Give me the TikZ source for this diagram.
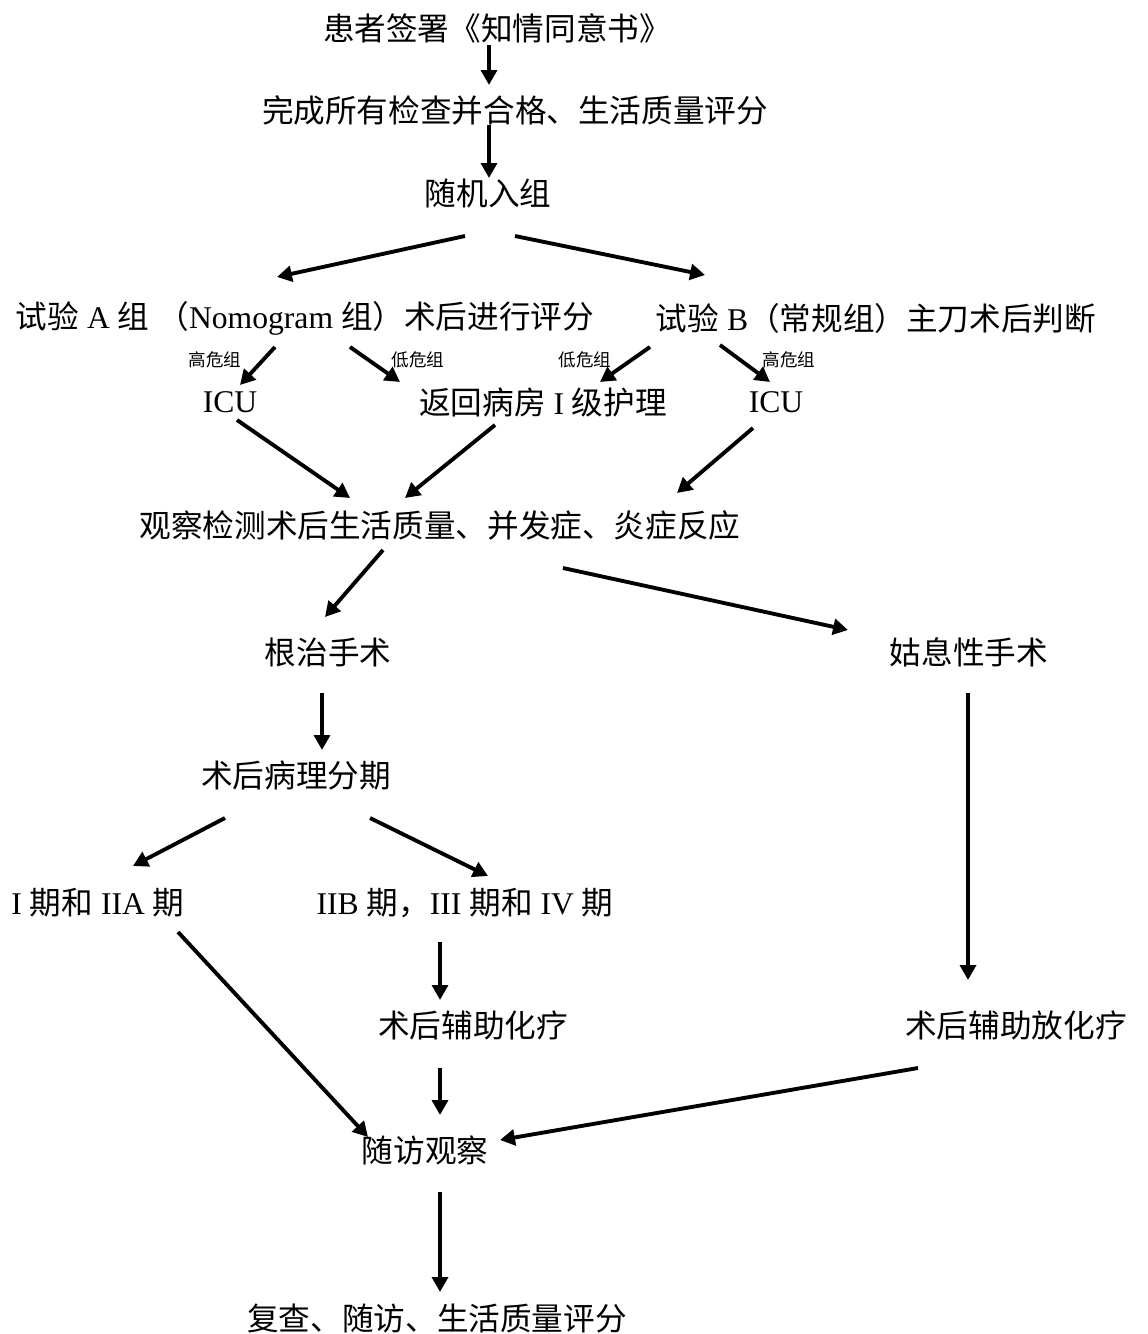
\documentclass[tikz,border=0pt]{standalone}
\usepackage{fontspec}
\setmainfont{Liberation Serif}
\newfontfamily\cjk{Noto Sans CJK SC}
\usetikzlibrary{arrows.meta,calc}
\newcommand{\zh}[1]{{\cjk #1}}
\begin{document}
\begin{tikzpicture}[x=0.02cm,y=-0.02cm,
  txt/.style={inner sep=1pt, font=\fontsize{18}{20}\selectfont},
  lbl/.style={inner sep=0pt, font=\fontsize{10}{12}\selectfont\cjk},
  arr/.style={line width=2.2pt, -{Triangle[length=8.5pt,width=9pt]}}]
\useasboundingbox (0,0) rectangle (1148,1334);
% nodes
\node[txt] (n1) at (497,28) {\zh{患者签署《知情同意书》}};
\node[txt] (n2) at (515,110) {\zh{完成所有检查并合格、生活质量评分}};
\node[txt] (n3) at (488,193) {\zh{随机入组}};
\node[txt] (nA) at (305,318) {\zh{试验}~A~\zh{组}~\zh{（}Nomogram~\zh{组）术后进行评分}};
\node[txt] (nB) at (876,318) {\zh{试验}~B\zh{（常规组）主刀术后判断}};
\node[lbl] (lA1) at (215,360) {高危组};
\node[lbl] (lA2) at (418,360) {低危组};
\node[lbl] (lB1) at (585,360) {低危组};
\node[lbl] (lB2) at (789,360) {高危组};
\node[txt] (icuA) at (230,402) {ICU};
\node[txt] (ward) at (543,402) {\zh{返回病房}~I~\zh{级护理}};
\node[txt] (icuB) at (776,402) {ICU};
\node[txt] (obs) at (440,525) {\zh{观察检测术后生活质量、并发症、炎症反应}};
\node[txt] (rad) at (328,652) {\zh{根治手术}};
\node[txt] (pal) at (969,652) {\zh{姑息性手术}};
\node[txt] (stage) at (296,776) {\zh{术后病理分期}};
\node[txt] (e1) at (98,903) {I~\zh{期和}~IIA~\zh{期}};
\node[txt] (e2) at (465,903) {IIB~\zh{期，}III~\zh{期和}~IV~\zh{期}};
\node[txt] (chemo) at (473,1025) {\zh{术后辅助化疗}};
\node[txt] (rchemo) at (1016,1025) {\zh{术后辅助放化疗}};
\node[txt] (fu) at (425,1150) {\zh{随访观察}};
\node[txt] (rev) at (437,1318) {\zh{复查、随访、生活质量评分}};
% connectors
\draw[arr] ($(n1)+(-8,17)$) -- ($(n2)+(-26,-25)$);
\draw[arr] ($(n2)+(-26,15)$) -- ($(n3)+(1,-15)$);
\draw[arr] ($(n3)+(-23,43)$) -- ($(nA)+(-28,-41)$);
\draw[arr] ($(n3)+(27,43)$) -- ($(nB)+(-171,-43)$);
\draw[arr] ($(nA)+(-30,29)$) -- ($(icuA)+(10,-17)$);
\draw[arr] ($(nA)+(45,29)$) -- ($(ward)+(-143,-20)$);
\draw[arr] ($(nB)+(-226,29)$) -- ($(ward)+(57,-20)$);
\draw[arr] ($(nB)+(-156,27)$) -- ($(icuB)+(-6,-20)$);
\draw[arr] ($(icuA)+(7,18)$) -- ($(obs)+(-90,-27)$);
\draw[arr] ($(ward)+(-48,23)$) -- ($(obs)+(-35,-27)$);
\draw[arr] ($(icuB)+(-23,26)$) -- ($(obs)+(237,-32)$);
\draw[arr] ($(obs)+(-57,25)$) -- ($(rad)+(-3,-35)$);
\draw[arr] ($(obs)+(123,43)$) -- ($(pal)+(-121,-22)$);
\draw[arr] ($(rad)+(-6,41)$) -- ($(stage)+(26,-26)$);
\draw[arr] ($(stage)+(-71,42)$) -- ($(e1)+(35,-37)$);
\draw[arr] ($(stage)+(74,42)$) -- ($(e2)+(23,-27)$);
\draw[arr] ($(e2)+(-25,39)$) -- ($(chemo)+(-33,-25)$);
\draw[arr] ($(e1)+(80,29)$) -- ($(fu)+(-57,-13)$);
\draw[arr] ($(chemo)+(-33,43)$) -- ($(fu)+(15,-35)$);
\draw[arr] ($(rchemo)+(-98,43)$) -- ($(fu)+(75,-10)$);
\draw[arr] ($(pal)+(-1,41)$) -- ($(rchemo)+(-48,-45)$);
\draw[arr] ($(fu)+(15,42)$) -- ($(rev)+(3,-26)$);
\end{tikzpicture}
\end{document}
